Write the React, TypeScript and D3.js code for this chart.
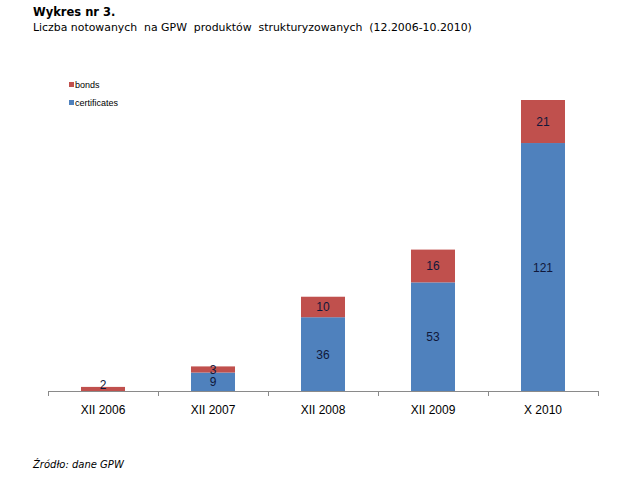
import React from "react";
import * as d3 from "d3";

const categories = ["XII 2006", "XII 2007", "XII 2008", "XII 2009", "X 2010"];
const certificates = [0, 9, 36, 53, 121];
const bonds = [2, 3, 10, 16, 21];
const seriesNames = ["certificates", "bonds"];
const colors = ["#4F81BD", "#C0504D"];

export default function App() {
  const W = 640, H = 480;
  const x = d3.scaleBand<string>().domain(categories).range([48, 598]).paddingInner(0.6).paddingOuter(0.3);
  const xOuter = d3.scaleBand<string>().domain(categories).range([48, 598]);
  const y = d3.scaleLinear().domain([0, 142]).range([391, 100]);
  const rows = categories.map((c, i) => ({ cat: c, certificates: certificates[i], bonds: bonds[i] }));
  const stack = d3.stack<any>().keys(seriesNames)(rows);
  const ticks = categories.map((c) => xOuter(c)!).concat([598]);
  return (
    <svg width={W} height={H} style={{ position: "absolute", left: 0, top: 0, background: "#fff" }}>
      <text x={33} y={16} fontFamily="DejaVu Sans, Verdana, sans-serif" fontWeight="bold" fontSize={11.5} fill="#000">Wykres nr 3.</text>
      <text x={33} y={31} fontFamily="DejaVu Sans, Verdana, sans-serif" fontSize={10.9} fill="#000" style={{ whiteSpace: "pre" }}>Liczba notowanych  na GPW  produktów  strukturyzowanych  (12.2006-10.2010)</text>
      {stack.map((s, si) => (
        <g key={si}>
          {s.map((d, i) => {
            const v = d[1] - d[0];
            if (v <= 0) return null;
            const bx = x(categories[i])!;
            const bw = x.bandwidth();
            const cy = Math.min((y(d[0]) + y(d[1])) / 2, y(0) - 7);
            return (
              <g key={i}>
                <rect x={bx} y={y(d[1])} width={bw} height={y(d[0]) - y(d[1])} fill={colors[si]} />
                <text x={bx + bw / 2} y={cy + 4.5} textAnchor="middle" fontFamily="Liberation Sans, Arial, sans-serif" fontSize={12} fill="#10183a">{v}</text>
              </g>
            );
          })}
        </g>
      ))}
      <line x1={48} x2={598} y1={391.5} y2={391.5} stroke="#8a8a8a" strokeWidth={1} />
      {ticks.map((t, i) => (
        <line key={i} x1={t + 0.5} x2={t + 0.5} y1={391} y2={396} stroke="#8a8a8a" />
      ))}
      {categories.map((c) => (
        <text key={c} x={xOuter(c)! + xOuter.bandwidth() / 2} y={414} textAnchor="middle" fontFamily="Liberation Sans, Arial, sans-serif" fontSize={12} fill="#000">{c}</text>
      ))}
      {[1, 0].map((si, k) => (
        <g key={si}>
          <rect x={69} y={82 + k * 18} width={5} height={5} fill={colors[si]} />
          <text x={75} y={88 + k * 18} fontFamily="Liberation Sans, Arial, sans-serif" fontSize={9} fill="#000">{seriesNames[si]}</text>
        </g>
      ))}
      <text x={33} y={468} fontFamily="DejaVu Sans, Verdana, sans-serif" fontStyle="italic" fontSize={10} fill="#000">Źródło: dane GPW</text>
    </svg>
  );
}
